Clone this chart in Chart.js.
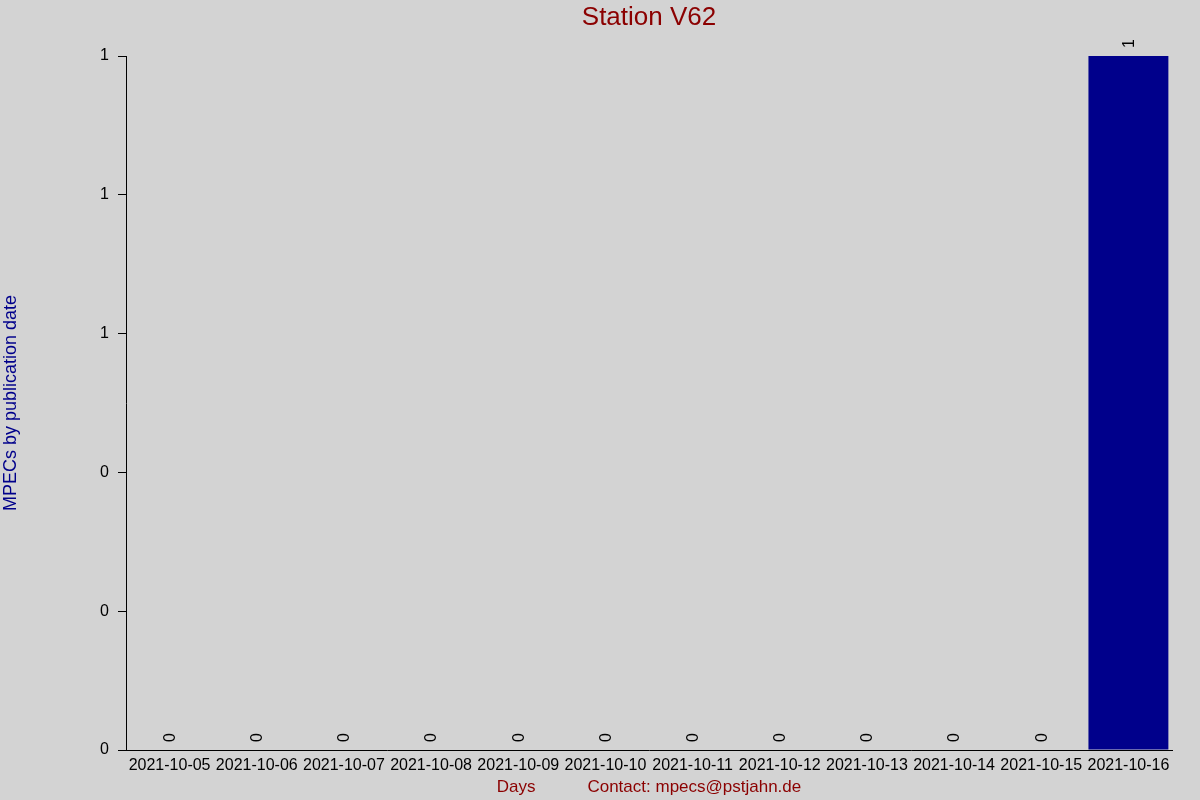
<!DOCTYPE html>
<html>
<head>
<meta charset="utf-8">
<script src="https://cdn.jsdelivr.net/npm/chart.js@4.4.1/dist/chart.umd.min.js"></script>
<style>
  html, body { margin: 0; padding: 0; background: #d3d3d3; }
  #wrap { width: 1200px; height: 800px; }
</style>
</head>
<body>
<div id="wrap"><canvas id="chart" width="1200" height="800"></canvas></div>
<script>
const DAYS = [
  '2021-10-05', '2021-10-06', '2021-10-07', '2021-10-08',
  '2021-10-09', '2021-10-10', '2021-10-11', '2021-10-12',
  '2021-10-13', '2021-10-14', '2021-10-15', '2021-10-16',
];
const MPECS = [0, 0, 0, 0, 0, 0, 0, 0, 0, 0, 0, 1];

const TITLE = 'Station V62';
const FONT = 'Arial, "Liberation Sans", sans-serif';

// rotated count above each bar
const valueLabels = {
  id: 'valueLabels',
  afterDatasetsDraw(chart) {
    const ctx = chart.ctx;
    const meta = chart.getDatasetMeta(0);
    ctx.save();
    ctx.font = '16px ' + FONT;
    ctx.fillStyle = '#000';
    ctx.textAlign = 'left';
    ctx.textBaseline = 'middle';
    meta.data.forEach((bar, i) => {
      ctx.save();
      ctx.translate(bar.x + 1, bar.y - 8);
      ctx.rotate(-Math.PI / 2);
      ctx.fillText(String(MPECS[i]), 0, 0);
      ctx.restore();
    });
    ctx.restore();
  }
};

// background + title centred over the plot area, not the canvas
const frame = {
  id: 'frame',
  beforeDraw(chart) {
    const ctx = chart.ctx;
    ctx.save();
    ctx.fillStyle = '#d3d3d3';
    ctx.fillRect(0, 0, chart.width, chart.height);
    ctx.restore();
  },
  afterDraw(chart) {
    const ctx = chart.ctx;
    const area = chart.chartArea;
    ctx.save();
    ctx.font = '26px ' + FONT;
    ctx.fillStyle = '#8b0000';
    ctx.textAlign = 'center';
    ctx.textBaseline = 'middle';
    ctx.fillText(TITLE, (area.left + area.right) / 2, 18);
    ctx.restore();
  }
};

new Chart(document.getElementById('chart').getContext('2d'), {
  type: 'bar',
  data: {
    labels: DAYS,
    datasets: [{
      label: 'MPECs',
      data: MPECS,
      backgroundColor: '#00008b',
      borderWidth: 0,
      barPercentage: 0.917,
      categoryPercentage: 1.0,
    }]
  },
  options: {
    responsive: false,
    animation: false,
    devicePixelRatio: 1,
    layout: { padding: { left: 0, right: 28, top: 56, bottom: 0 } },
    plugins: {
      legend: { display: false },
      tooltip: { enabled: false },
      title: { display: false },
    },
    scales: {
      x: {
        grid: { display: false, drawTicks: false },
        border: { display: true, color: '#000', width: 1 },
        ticks: {
          color: '#000',
          font: { family: FONT, size: 16 },
          padding: 6,
          maxRotation: 0,
          autoSkip: false,
        },
        title: {
          display: true,
          text: 'Days           Contact: mpecs@pstjahn.de',
          color: '#8b0000',
          font: { family: FONT, size: 17 },
          padding: { top: 0, bottom: 2 },
        },
        afterFit(scale) { scale.height = 50; },
      },
      y: {
        min: 0,
        max: 1,
        grid: {
          display: true,
          drawOnChartArea: false,
          drawTicks: true,
          tickLength: 8,
          color: '#000',
        },
        border: { display: true, color: '#000', width: 1 },
        ticks: {
          stepSize: 0.2,
          color: '#000',
          font: { family: FONT, size: 16 },
          padding: 9,
          callback: v => Math.round(v),
        },
        title: {
          display: true,
          text: 'MPECs by publication date',
          color: '#00008b',
          font: { family: FONT, size: 18 },
          padding: { top: 0, bottom: 0 },
        },
        afterFit(scale) { scale.width = 126; },
      }
    }
  },
  plugins: [frame, valueLabels]
});
</script>
</body>
</html>
